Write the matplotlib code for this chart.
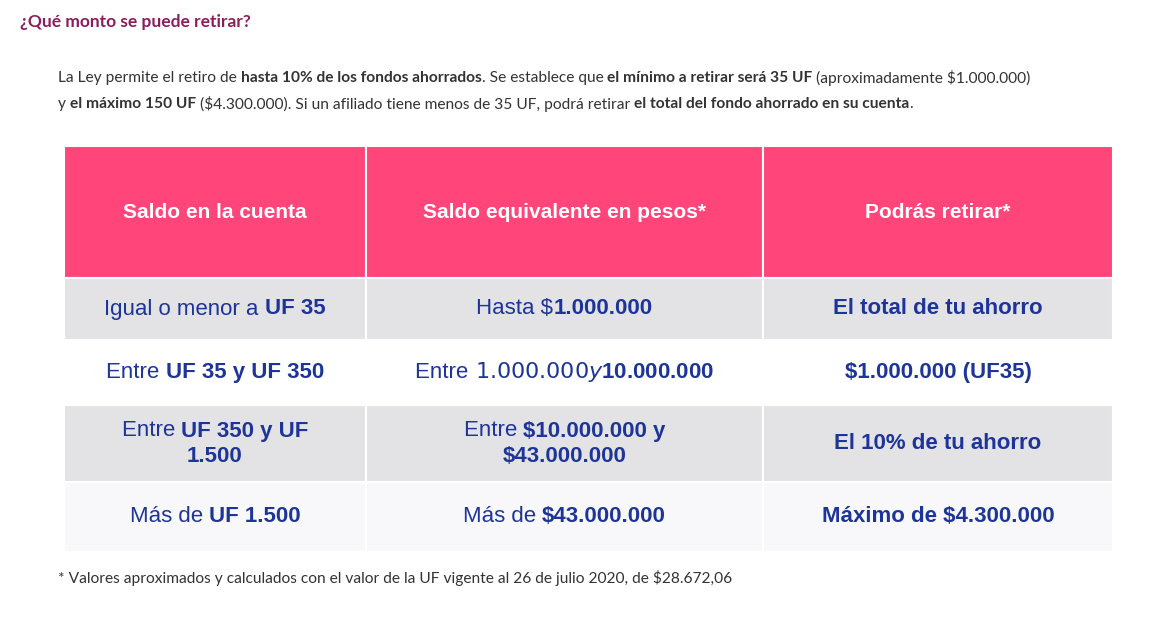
import matplotlib.pyplot as plt
from matplotlib.patches import Rectangle

W, H = 1170, 618

TITLE = "¿Qué monto se puede retirar?"
INTRO = [
    [("La Ley permite el retiro de ", False), ("hasta 10% de los fondos ahorrados", True),
     (". Se establece que ", False), ("el mínimo a retirar será 35 UF", True),
     (" (aproximadamente $1.000.000)", False)],
    [("y ", False), ("el máximo 150 UF", True),
     (" ($4.300.000). Si un afiliado tiene menos de 35 UF, podrá retirar ", False),
     ("el total del fondo ahorrado en su cuenta", True), (".", False)],
]
FOOTNOTE = "* Valores aproximados y calculados con el valor de la UF vigente al 26 de julio 2020, de $28.672,06"

HEADERS = ["Saldo en la cuenta", "Saldo equivalente en pesos*", "Podrás retirar*"]
COL1 = [
    [[("Igual o menor a ", False), ("UF 35", True)]],
    [[("Entre ", False), ("UF 35 y UF 350", True)]],
    [[("Entre ", False), ("UF 350 y UF", True)], [("1.500", True)]],
    [[("Más de ", False), ("UF 1.500", True)]],
]
COL2 = [
    [[("Hasta $", False), ("1.000.000", True)]],
    [[("Entre ", False), ("$1.000.000 y $10.000.000", True)]],
    [[("Entre ", False), ("$10.000.000 y", True)], [("$43.000.000", True)]],
    [[("Más de ", False), ("$43.000.000", True)]],
]
COL3 = [
    [[("El total de tu ahorro", True)]],
    [[("$1.000.000 (UF35)", True)]],
    [[("El 10% de tu ahorro", True)]],
    [[("Máximo de $4.300.000", True)]],
]

col_edges = [64, 366, 763, 1113]
row_edges = [146, 278, 340, 405, 482, 552]
row_colors = ["#e3e3e5", "#ffffff", "#e3e3e5", "#f8f8fa"]
HEAD_COLOR = "#ff4579"
CELL_TEXT = "#1d3498"

fig = plt.figure(figsize=(W / 100, H / 100), dpi=100)
ax = fig.add_axes([0, 0, 1, 1])
ax.set_xlim(0, W)
ax.set_ylim(H, 0)
ax.axis("off")
renderer = fig.canvas.get_renderer()


def draw_line(x, y, segs, family, size, color, align="left"):
    """Draw a line of mixed regular/bold segments; x is left edge or centre."""
    items = []
    for txt, bold in segs:
        t = ax.text(0, y, txt, family=family, fontsize=size, color=color,
                    fontweight="bold" if bold else "normal", va="center", ha="left")
        items.append((t, t.get_window_extent(renderer).width))
    total = sum(w for _, w in items)
    cur = x - total / 2 if align == "center" else x
    for t, w in items:
        t.set_x(cur)
        cur += w


ax.text(20, 22, TITLE, family="Lato", fontsize=12.5, fontweight="bold",
        color="#8c1d5c", va="center")
for i, line in enumerate(INTRO):
    draw_line(58, 78 + i * 26, line, "Lato", 11.2, "#333333")
ax.text(58, 578, FOOTNOTE, family="Lato", fontsize=11.2, color="#333333", va="center")

# header
for c in range(3):
    x0, x1 = col_edges[c], col_edges[c + 1]
    ax.add_patch(Rectangle((x0, row_edges[0]), x1 - x0, row_edges[1] - row_edges[0],
                           facecolor=HEAD_COLOR, edgecolor="white", lw=1.5))
    ax.text((x0 + x1) / 2, 212, HEADERS[c], family="Liberation Sans", fontsize=15,
            fontweight="bold", color="white", ha="center", va="center")

for r, color in enumerate(row_colors):
    y0, y1 = row_edges[r + 1], row_edges[r + 2]
    for c, col in enumerate([COL1, COL2, COL3]):
        x0, x1 = col_edges[c], col_edges[c + 1]
        ax.add_patch(Rectangle((x0, y0), x1 - x0, y1 - y0, facecolor=color,
                               edgecolor="white", lw=1.5))
        lines = col[r]
        yc = (y0 + y1) / 2
        lh = 25
        for k, line in enumerate(lines):
            y = yc + (k - (len(lines) - 1) / 2) * lh
            draw_line((x0 + x1) / 2, y, line, "Liberation Sans", 16, CELL_TEXT, align="center")

fig.savefig("out.png", dpi=100, facecolor="white")
